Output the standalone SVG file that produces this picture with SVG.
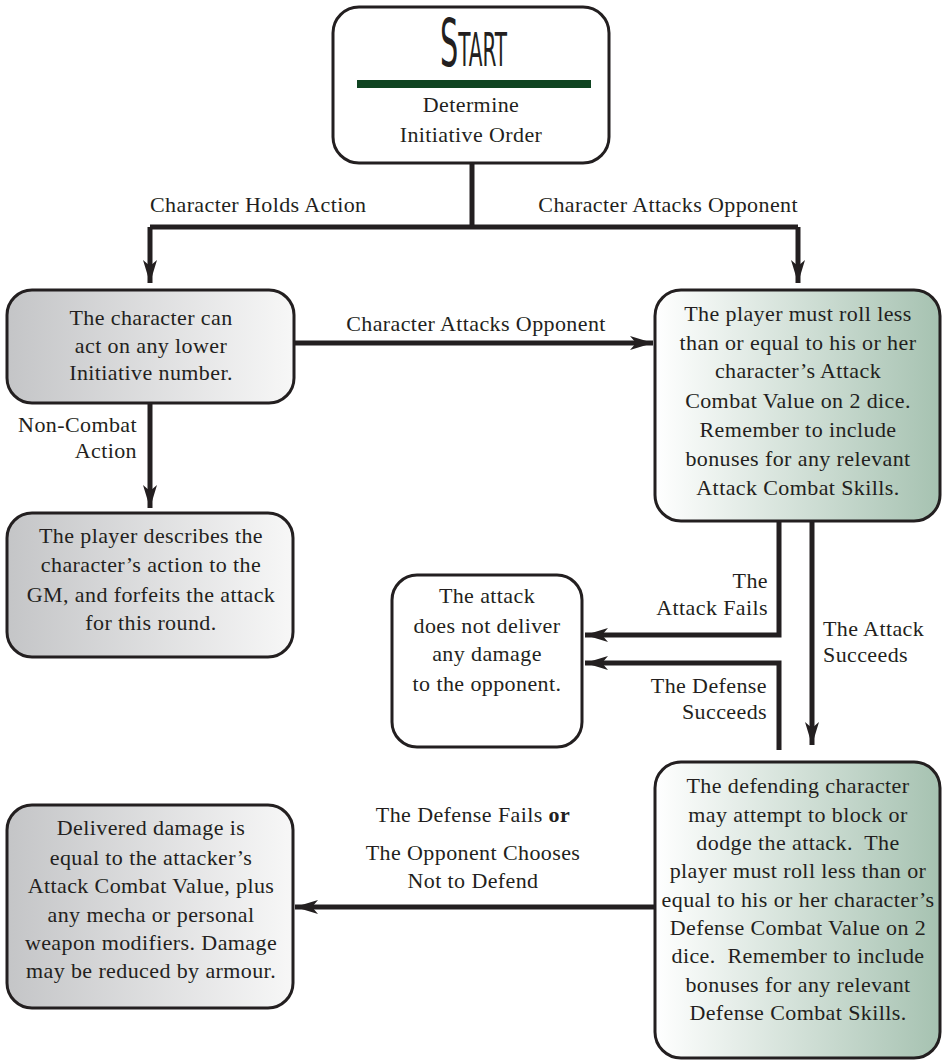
<svg xmlns="http://www.w3.org/2000/svg" width="943" height="1062" viewBox="0 0 943 1062">
<defs>
<linearGradient id="gGray" x1="0" y1="0" x2="1" y2="0">
<stop offset="0" stop-color="#c4c5c7"/>
<stop offset="1" stop-color="#f7f7f7"/>
</linearGradient>
<linearGradient id="gGreen" x1="0" y1="0" x2="1" y2="0">
<stop offset="0" stop-color="#ffffff"/>
<stop offset="1" stop-color="#a6c2b1"/>
</linearGradient>
<marker id="ah" markerUnits="userSpaceOnUse" markerWidth="26" markerHeight="16" viewBox="-23 -8 26 16" refX="0" refY="0" orient="auto">
<path d="M0,0 L-23,-7 L-17,0 L-23,7 Z" fill="#231f20"/>
</marker>
<style>
.box{stroke:#231f20;stroke-width:3}
.t{font-family:"Liberation Serif","Times New Roman",serif;font-size:22px;fill:#231f20;letter-spacing:0.4px}
.c{text-anchor:middle}
.e{text-anchor:end}
.pre{white-space:pre}
.ln{fill:none;stroke:#231f20;stroke-width:5;stroke-linejoin:miter}
.ar{marker-end:url(#ah)}
</style>
</defs>

<g id="connectors">
<path class="ln" d="M472,163 V227"/>
<path class="ln" d="M150,227 H798"/>
<path class="ln ar" d="M150,227 V283"/>
<path class="ln ar" d="M798,227 V283"/>
<path class="ln ar" d="M294,343 H653"/>
<path class="ln ar" d="M150,403 V508"/>
<path class="ln ar" d="M779,521 V635 H585"/>
<path class="ln ar" d="M779,750 V663 H585"/>
<path class="ln ar" d="M812,521 V745"/>
<path class="ln ar" d="M655,907 H295"/>
<text class="t" x="150" y="212">Character Holds Action</text>
<text class="t e" x="798" y="212">Character Attacks Opponent</text>
<text class="t c" x="476" y="331">Character Attacks Opponent</text>
<text class="t e" x="137" y="432">Non-Combat</text>
<text class="t e" x="137" y="458">Action</text>
<text class="t e" x="768" y="588">The</text>
<text class="t e" x="768" y="615">Attack Fails</text>
<text class="t" x="823" y="636">The Attack</text>
<text class="t" x="823" y="662">Succeeds</text>
<text class="t e" x="767" y="693">The Defense</text>
<text class="t e" x="767" y="719">Succeeds</text>
<text class="t c" x="473" y="822">The Defense Fails <tspan font-weight="bold">or</tspan></text>
<text class="t c" x="473" y="860">The Opponent Chooses</text>
<text class="t c" x="473" y="888">Not to Defend</text>
</g>

<g id="start">
<rect class="box" x="333" y="7" width="276" height="156" rx="26" fill="#ffffff"/>
<text x="440" y="66" textLength="67" lengthAdjust="spacingAndGlyphs" style="font-family:'Liberation Sans Narrow','DejaVu Sans Condensed',sans-serif;font-size:66px;font-variant:small-caps;fill:#231f20">Start</text>
<rect x="357" y="80" width="234" height="8" fill="#0f4421"/>
<text class="t c" x="471" y="112">Determine</text>
<text class="t c" x="471" y="142">Initiative Order</text>
</g>

<g id="hold">
<rect class="box" x="7" y="290" width="287" height="113" rx="25" fill="url(#gGray)"/>
<text class="t c" x="151" y="325">The character can</text>
<text class="t c" x="151" y="353">act on any lower</text>
<text class="t c" x="151" y="380">Initiative number.</text>
</g>

<g id="attack">
<rect class="box" x="655" y="290" width="285" height="231" rx="26" fill="url(#gGreen)"/>
<text class="t c" x="798" y="321">The player must roll less</text>
<text class="t c" x="798" y="350">than or equal to his or her</text>
<text class="t c" x="798" y="378">character’s Attack</text>
<text class="t c" x="798" y="408">Combat Value on 2 dice.</text>
<text class="t c" x="798" y="437">Remember to include</text>
<text class="t c" x="798" y="466">bonuses for any relevant</text>
<text class="t c" x="798" y="495">Attack Combat Skills.</text>
</g>

<g id="noncombat">
<rect class="box" x="7" y="513" width="286" height="144" rx="25" fill="url(#gGray)"/>
<text class="t c" x="151" y="543">The player describes the</text>
<text class="t c" x="151" y="572">character’s action to the</text>
<text class="t c" x="151" y="602">GM, and forfeits the attack</text>
<text class="t c" x="151" y="630">for this round.</text>
</g>

<g id="nodamage">
<rect class="box" x="392" y="575" width="190" height="172" rx="25" fill="#ffffff"/>
<text class="t c" x="487" y="603">The attack</text>
<text class="t c" x="487" y="633">does not deliver</text>
<text class="t c" x="487" y="661">any damage</text>
<text class="t c" x="487" y="691">to the opponent.</text>
</g>

<g id="defense">
<rect class="box" x="655" y="762" width="285" height="296" rx="26" fill="url(#gGreen)"/>
<text class="t c" x="798" y="793">The defending character</text>
<text class="t c" x="798" y="822">may attempt to block or</text>
<text class="t c pre" x="798" y="850">dodge the attack.  The</text>
<text class="t c" x="798" y="878">player must roll less than or</text>
<text class="t c" x="798" y="907">equal to his or her character’s</text>
<text class="t c" x="798" y="935">Defense Combat Value on 2</text>
<text class="t c pre" x="798" y="963">dice.  Remember to include</text>
<text class="t c" x="798" y="992">bonuses for any relevant</text>
<text class="t c" x="798" y="1020">Defense Combat Skills.</text>
</g>

<g id="damage">
<rect class="box" x="7" y="805" width="286" height="203" rx="25" fill="url(#gGray)"/>
<text class="t c" x="151" y="835">Delivered damage is</text>
<text class="t c" x="151" y="865">equal to the attacker’s</text>
<text class="t c" x="151" y="893">Attack Combat Value, plus</text>
<text class="t c" x="151" y="922">any mecha or personal</text>
<text class="t c" x="151" y="950">weapon modifiers. Damage</text>
<text class="t c" x="151" y="978">may be reduced by armour.</text>
</g>
</svg>
